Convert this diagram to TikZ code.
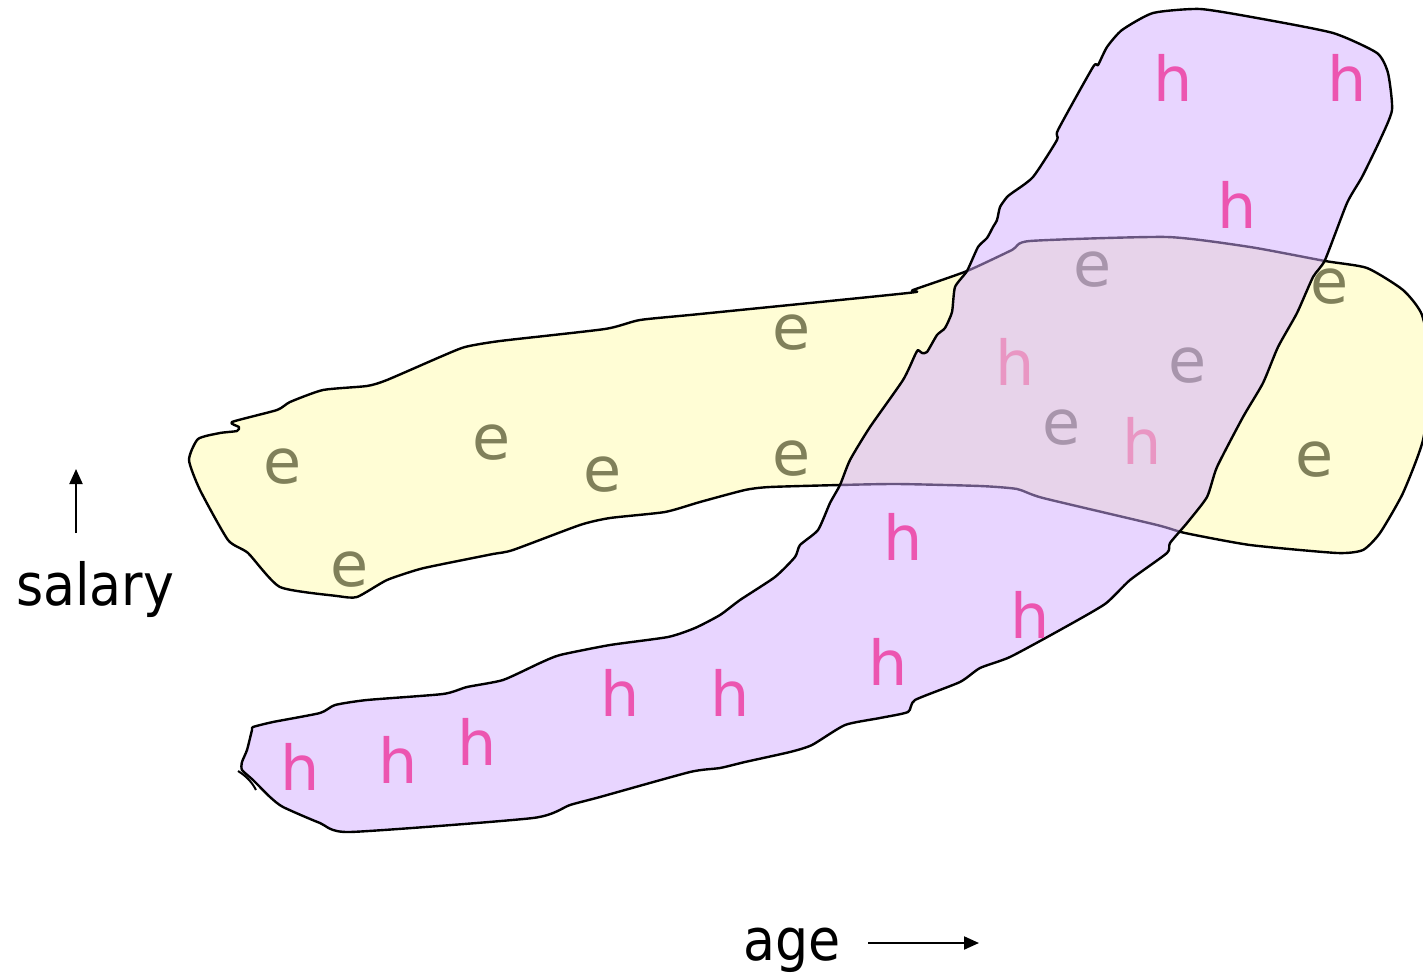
\documentclass[tikz,border=0pt]{standalone}
\usepackage{fontspec}
\setmainfont{DejaVu Sans}
\newfontfamily\condfont{DejaVu Sans Condensed}
\usetikzlibrary{arrows.meta}
\definecolor{yfill}{RGB}{255,253,213}
\definecolor{pfill}{RGB}{209,171,255}
\definecolor{ecol}{RGB}{128,128,90}
\definecolor{hcol}{RGB}{236,85,176}
\definecolor{hlight}{RGB}{233,150,195}
\tikzset{
  blobline/.style={draw=black, line width=2.4pt, line join=round},
  eletter/.style={text=ecol, inner sep=0pt, font=\fontsize{62}{70}\selectfont},
  hletter/.style={text=hcol, inner sep=0pt, font=\fontsize{62}{70}\selectfont},
  hfaded/.style={hletter, text=hlight},
  axislabel/.style={text=black, inner sep=0pt, anchor=base, font=\condfont\fontsize{58}{64}\selectfont},
  axisarrow/.style={draw=black, line width=2pt, -{Triangle[length=15pt, width=13pt]}}
}
\begin{document}
\begin{tikzpicture}[x=1pt, y=-1pt]
\useasboundingbox (0,0) rectangle (1423,973);
\begin{scope}
\clip (0,0) rectangle (1423,973);
% yellow blob
\draw[blobline, fill=yfill] plot[smooth cycle, tension=0.35] coordinates {
(189,460) (198,439) (220,433) (237,431) (239,427) (232,422) (277,410) (290,402) (323,390) (367,386) (387,380) (440,357) (465,347) (500,341) (605,329) (640,320) (700,314) (908,293) (913,290) (967,271) (1012,250) (1030,241) (1167,237) (1250,247) (1325,261) (1367,268) (1403,290) (1422,315) (1432,370) (1423,440) (1403,493) (1380,533) (1363,550) (1337,553) (1250,545) (1185,533) (1157,525) (1043,498) (1017,489) (980,486) (897,484) (840,485) (770,487) (745,490) (700,502) (665,512) (610,518) (580,525) (513,550) (493,554) (453,562) (420,569) (387,580) (357,597) (337,596) (280,587) (248,553) (228,540) (200,490)};
% e letters
\node[eletter] (e1) at (283,467) {e};
\node[eletter] (e2) at (492,443) {e};
\node[eletter] (e3) at (603,475) {e};
\node[eletter] (e4) at (792,333) {e};
\node[eletter] (e5) at (792,459) {e};
\node[eletter] (e6) at (350,570) {e};
\node[eletter] (e7) at (1330,287) {e};
\node[eletter] (e8) at (1315,460) {e};
\node[eletter] (e9) at (1093,270) {e};
\node[eletter] (e10) at (1188,366) {e};
\node[eletter] (e11) at (1062,428) {e};
% purple blob
\def\purplepts{(1000,207) (1007,197) (1012,193) (1033,177) (1057,140) (1058,130) (1093,67) (1098,65) (1107,47) (1122,30) (1153,13) (1200,9) (1257,18) (1333,33) (1377,53) (1388,73) (1392,110) (1380,140) (1362,177) (1347,203) (1325,260) (1313,277) (1297,313) (1278,347) (1263,383) (1243,417) (1217,467) (1207,497) (1187,523) (1170,543) (1167,553) (1130,580) (1105,604) (1060,630) (1010,657) (980,668) (960,682) (915,700) (908,712) (880,718) (845,725) (812,745) (790,752) (745,762) (720,768) (690,772) (600,797) (570,805) (533,818) (350,832) (320,823) (283,807) (270,797) (253,780) (242,770) (242,762) (247,750) (252,730) (253,727) (273,722) (320,713) (335,705) (367,700) (443,694) (467,687) (503,680) (540,663) (560,655) (610,645) (668,637) (695,628) (720,615) (740,600) (775,577) (795,557) (800,545) (818,530) (830,503) (840,485) (850,460) (870,427) (903,380) (915,355) (918,350) (922,353) (927,352) (937,335) (945,328) (952,312) (955,287) (967,271) (978,247) (987,238) (993,227) (997,220)}
\fill[pfill, fill opacity=0.5] plot[smooth cycle, tension=0.35] coordinates {\purplepts};
\draw[blobline] plot[smooth cycle, tension=0.35] coordinates {\purplepts};
\draw[blobline, line width=2pt] (238,771) .. controls (246,776) and (252,782) .. (256,790);
% h letters
\node[hletter] (h1) at (1173,78) {h};
\node[hletter] (h2) at (1347,78) {h};
\node[hletter] (h3) at (1237,205) {h};
\node[hletter] (h4) at (903,537) {h};
\node[hletter] (h5) at (1030,615) {h};
\node[hletter] (h6) at (888,662) {h};
\node[hletter] (h7) at (730,693) {h};
\node[hletter] (h8) at (620,693) {h};
\node[hletter] (h9) at (477,742) {h};
\node[hletter] (h10) at (398,760) {h};
\node[hletter] (h11) at (300,767) {h};
\node[hfaded] (h12) at (1015,362) {h};
\node[hfaded] (h13) at (1142,441) {h};
\end{scope}
% axes
\node[axislabel] (salary) at (95,605) {salary};
\coordinate (sbot) at (76,533);
\coordinate (stop) at (76,469);
\draw[axisarrow] (sbot) -- (stop);
\node[axislabel] (age) at (792,960) {age};
\coordinate (aleft) at (868,943);
\coordinate (aright) at (979,943);
\draw[axisarrow] (aleft) -- (aright);
\end{tikzpicture}
\end{document}
